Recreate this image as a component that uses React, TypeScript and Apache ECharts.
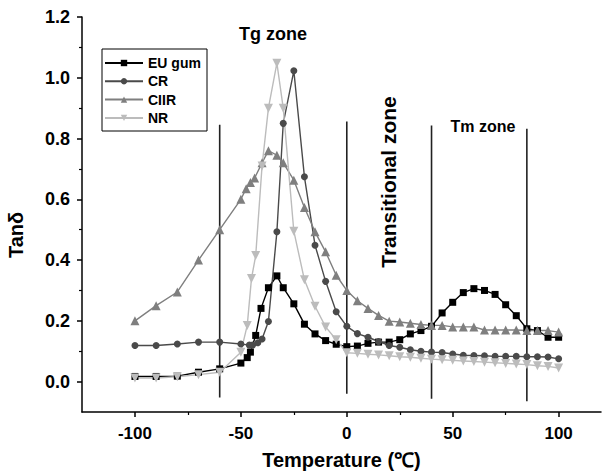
import React, { useEffect, useRef } from "react";
import * as echarts from "echarts";

const FONT = "'Liberation Sans', Arial, sans-serif";

// Tick values
const xMajorTicks = [-100, -50, 0, 50, 100];
const xMinorTicks = [-75, -25, 25, 75];
const yMajorTicks = [0, 0.2, 0.4, 0.6, 0.8, 1.0, 1.2];
const yMinorTicks = [0.1, 0.3, 0.5, 0.7, 0.9, 1.1];

// EU gum
const euTemps = [-100, -90, -80, -70, -60, -50, -47, -45.5, -43, -40.5, -37, -33, -30, -25, -20, -15, -10, -5,
  0, 5, 10, 15, 20, 25, 30, 35, 40, 45, 50, 55, 60, 65, 70, 75, 80, 85, 90, 95, 100];
const euVals = [0.017, 0.017, 0.018, 0.031, 0.042, 0.061, 0.079, 0.097, 0.152, 0.241, 0.309, 0.348, 0.309, 0.256, 0.189, 0.157, 0.135, 0.123,
  0.115, 0.117, 0.126, 0.13, 0.13, 0.138, 0.157, 0.168, 0.182, 0.226, 0.261, 0.293, 0.306, 0.30, 0.287, 0.253, 0.217, 0.174, 0.168, 0.146, 0.146];

// CR
const crTemps = [-100, -90, -80, -70, -60, -50, -46, -44.5, -42, -40, -37, -33, -30, -25, -20, -15, -10, -5,
  0, 5, 10, 15, 20, 25, 30, 35, 40, 45, 50, 55, 60, 65, 70, 75, 80, 85, 90, 95, 100];
const crVals = [0.119, 0.119, 0.124, 0.13, 0.13, 0.124, 0.12, 0.12, 0.128, 0.14, 0.198, 0.493, 0.85, 1.023, 0.674, 0.449, 0.33, 0.23,
  0.182, 0.158, 0.146, 0.132, 0.119, 0.113, 0.105, 0.1, 0.097, 0.096, 0.091, 0.087, 0.086, 0.085, 0.083, 0.083, 0.083, 0.082, 0.082, 0.081, 0.075];

// CIIR
const ciirTemps = [-100, -90, -80, -70, -60, -50, -47.5, -45.5, -43.5, -40, -37, -33, -30, -25, -20, -15, -10, -5,
  0, 5, 10, 15, 20, 25, 30, 35, 40, 45, 50, 55, 60, 65, 70, 75, 80, 85, 90, 95, 100];
const ciirVals = [0.20, 0.25, 0.295, 0.40, 0.50, 0.60, 0.635, 0.655, 0.67, 0.72, 0.76, 0.745, 0.72, 0.663, 0.573, 0.493, 0.427, 0.35,
  0.30, 0.266, 0.241, 0.218, 0.199, 0.196, 0.192, 0.188, 0.185, 0.185, 0.18, 0.18, 0.18, 0.17, 0.17, 0.17, 0.17, 0.168, 0.168, 0.168, 0.163];

// NR
const nrTemps = [-100, -90, -80, -70, -60, -50, -47, -45, -43, -40, -37, -33, -30, -25, -20, -15, -10, -5,
  0, 5, 10, 15, 20, 25, 30, 35, 40, 45, 50, 55, 60, 65, 70, 75, 80, 85, 90, 95, 100];
const nrVals = [0.012, 0.012, 0.016, 0.023, 0.031, 0.097, 0.185, 0.339, 0.415, 0.71, 0.90, 1.048, 0.90, 0.495, 0.335, 0.248, 0.18, 0.138,
  0.095, 0.093, 0.09, 0.088, 0.085, 0.082, 0.08, 0.077, 0.074, 0.072, 0.07, 0.068, 0.066, 0.064, 0.062, 0.06, 0.058, 0.056, 0.052, 0.05, 0.045];

// Zone boundary lines
const zoneX = [-60, 0, 40, 85];
const zoneBottom = [-0.052, -0.04, -0.056, -0.065];
const zoneTop = [0.845, 0.856, 0.843, 0.832];

const seriesNames = ["EU gum", "CR", "CIIR", "NR"];

const zip = (xs: number[], ys: number[]) => xs.map((x, i) => [x, ys[i]]);

export default function App() {
  const ref = useRef<HTMLDivElement>(null);
  useEffect(() => {
    if (!ref.current) return;
    const chart = echarts.init(ref.current, null, { renderer: "svg" });

    const mkSeries = (name: string, xs: number[], ys: number[], color: string, symbol: string, size: number, rotate = 0) => ({
      name,
      type: "line",
      data: zip(xs, ys),
      symbol,
      symbolSize: size,
      symbolRotate: rotate,
      lineStyle: { color, width: 1.4 },
      itemStyle: { color },
      z: 3,
    });

    const zoneSeries = zoneX.map((x, i) => ({
      name: "zone" + i,
      type: "line",
      data: [[x, zoneBottom[i]], [x, zoneTop[i]]],
      symbol: "none",
      lineStyle: { color: "#222", width: 1.6 },
      silent: true,
      z: 2,
    }));

    const option: any = {
      animation: false,
      backgroundColor: "#fff",
      textStyle: { fontFamily: FONT },
      grid: { left: 82, right: 5, top: 17, bottom: 64 },
      legend: {
        data: seriesNames,
        orient: "vertical",
        left: 104,
        top: 56,
        padding: 0,
        itemWidth: 38,
        itemHeight: 8,
        itemGap: 4.3,
        itemTextGap: 6,
        textStyle: { fontSize: 14, fontWeight: "bold", color: "#000", lineHeight: 14, fontFamily: FONT },
      },
      xAxis: [
        {
          type: "value",
          min: -125,
          max: 120,
          axisLine: { onZero: false, lineStyle: { color: "#000", width: 1.5 } },
          axisTick: { customValues: xMajorTicks, length: 5, lineStyle: { color: "#000", width: 1.5 } },
          axisLabel: { customValues: xMajorTicks, fontSize: 17, fontWeight: "bold", color: "#000", margin: 13, fontFamily: FONT },
          splitLine: { show: false },
          name: "Temperature (℃)",
          nameLocation: "middle",
          nameGap: 38,
          nameTextStyle: { fontSize: 20, fontWeight: "bold", color: "#000", fontFamily: FONT },
        },
        {
          type: "value",
          min: -125,
          max: 120,
          position: "bottom",
          axisLine: { show: false, onZero: false },
          axisTick: { customValues: xMinorTicks, length: 3, lineStyle: { color: "#000", width: 1.2 } },
          axisLabel: { show: false },
          splitLine: { show: false },
        },
      ],
      yAxis: [
        {
          type: "value",
          min: -0.1,
          max: 1.2,
          axisLine: { show: true, onZero: false, lineStyle: { color: "#000", width: 1.5 } },
          axisTick: { show: true, customValues: yMajorTicks, length: 5, lineStyle: { color: "#000", width: 1.5 } },
          axisLabel: {
            customValues: yMajorTicks,
            fontSize: 18,
            fontWeight: "bold",
            color: "#000",
            margin: 12,
            fontFamily: FONT,
            formatter: (v: number) => v.toFixed(1),
          },
          splitLine: { show: false },
        },
        {
          type: "value",
          min: -0.1,
          max: 1.2,
          position: "left",
          axisLine: { show: false, onZero: false },
          axisTick: { show: true, customValues: yMinorTicks, length: 3, lineStyle: { color: "#000", width: 1.2 } },
          axisLabel: { show: false },
          splitLine: { show: false },
        },
      ],
      graphic: [
        {
          type: "rect",
          shape: { x: 102, y: 49, width: 105, height: 82 },
          style: { fill: "none", stroke: "#000", lineWidth: 1 },
          z: 10,
        },
        {
          type: "text",
          x: 16,
          y: 235,
          rotation: Math.PI / 2,
          style: { text: "Tanδ", fill: "#000", font: `bold 20px ${FONT}`, align: "center", verticalAlign: "middle", textAlign: "center", textVerticalAlign: "middle" },
        },
        {
          type: "text",
          x: 273,
          y: 34,
          style: { text: "Tg zone", fill: "#000", font: `bold 18px ${FONT}`, align: "center", verticalAlign: "middle", textAlign: "center", textVerticalAlign: "middle" },
        },
        {
          type: "text",
          x: 483,
          y: 126,
          style: { text: "Tm zone", fill: "#000", font: `bold 16px ${FONT}`, align: "center", verticalAlign: "middle", textAlign: "center", textVerticalAlign: "middle" },
        },
        {
          type: "text",
          x: 388,
          y: 182,
          rotation: Math.PI / 2,
          style: { text: "Transitional zone", fill: "#000", font: `bold 21px ${FONT}`, align: "center", verticalAlign: "middle", textAlign: "center", textVerticalAlign: "middle" },
        },
      ],
      series: [
        ...zoneSeries,
        mkSeries("EU gum", euTemps, euVals, "#000000", "rect", 7),
        mkSeries("CR", crTemps, crVals, "#4a4a4a", "circle", 7),
        mkSeries("CIIR", ciirTemps, ciirVals, "#7f7f7f", "triangle", 9),
        mkSeries("NR", nrTemps, nrVals, "#bcbcbc", "triangle", 9, 180),
      ],
    };
    chart.setOption(option);
    return () => chart.dispose();
  }, []);

  return <div ref={ref} style={{ position: "fixed", left: 0, top: 0, width: 606, height: 476 }} />;
}
